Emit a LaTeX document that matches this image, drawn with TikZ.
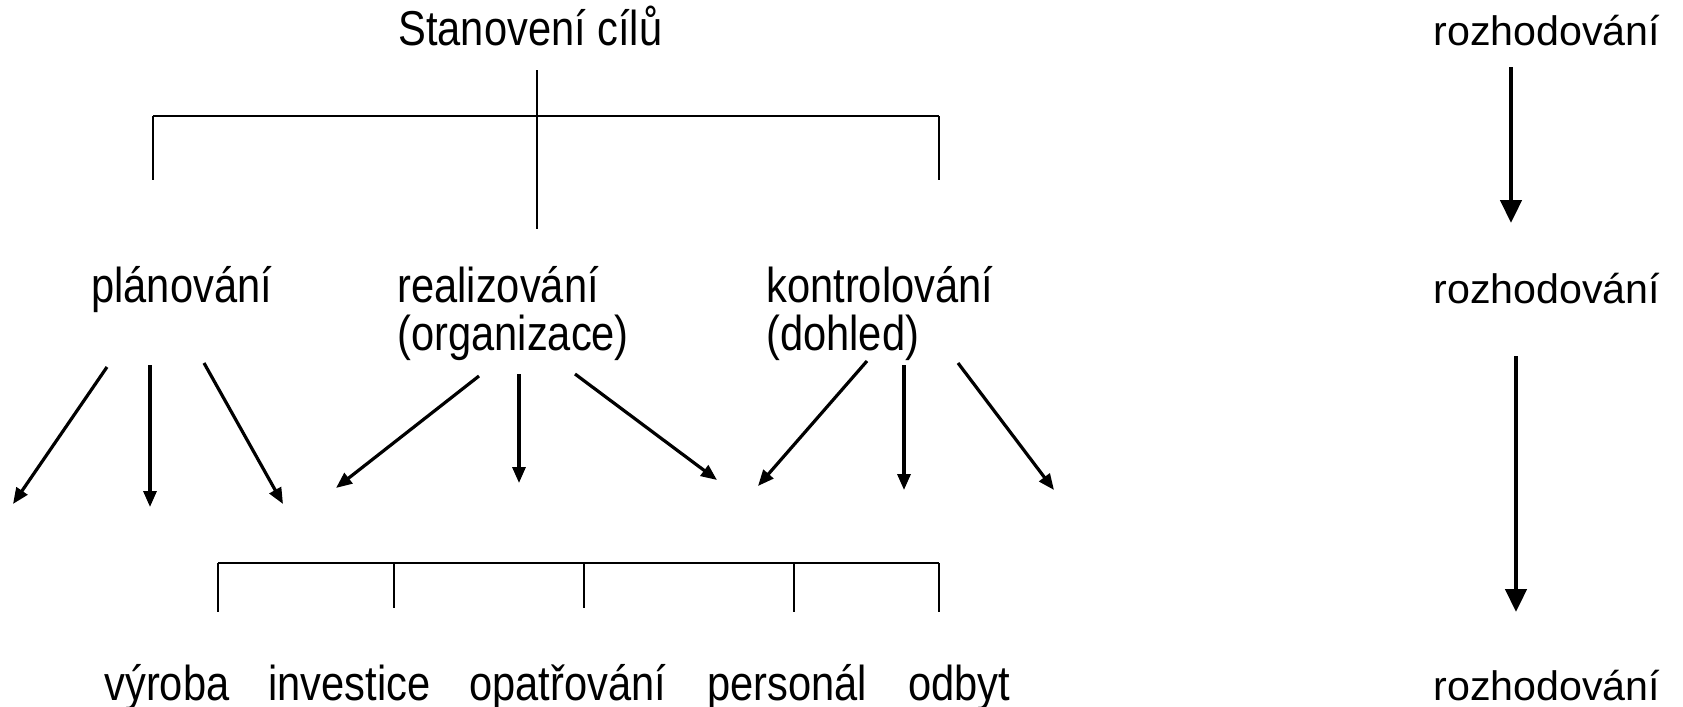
\documentclass[tikz,border=0pt]{standalone}
\usepackage{fontspec}
\setmainfont{Liberation Sans}
\newfontfamily\narrowsf[FakeStretch=0.85]{Liberation Sans}
\usepackage{tikz}
\usetikzlibrary{arrows.meta}

\begin{document}
\begin{tikzpicture}[x=0.5pt,y=-0.5pt,
                    lbl/.style={inner sep=0pt,anchor=base west,align=left,
                                font=\narrowsf\fontsize{24.5}{24}\selectfont},
                    rlbl/.style={inner sep=0pt,anchor=base west,
                                 font=\fontsize{20.6}{24}\selectfont},
                    tree/.style={line width=0.75pt},
                    bar/.style={line width=1.1pt},
                    fn/.style={-{Triangle[length=8pt,width=6.5pt]},line width=1.6pt},
                    flow/.style={-{Triangle[length=11.5pt,width=10.5pt]},line width=2.3pt}]
                \useasboundingbox (0,0) rectangle (1683,707);
                % texts (two-line nodes sit on the baseline of their last line)
                \node[lbl] (goal) at (398,45) {Stanovení cílů};
                \node[lbl] (plan) at (91,302) {plánování};
                \node[lbl] (real) at (397,350) {realizování\\(organizace)};
                \node[lbl] (kontr) at (766,350) {kontrolování\\(dohled)};
                \node[lbl] (vyroba) at (104,700) {výroba};
                \node[lbl] (invest) at (268,700) {investice};
                \node[lbl] (opatr) at (469,700) {opatřování};
                \node[lbl] (person) at (707,700) {personál};
                \node[lbl] (odbyt) at (908,700) {odbyt};
                \node[rlbl] (rozh1) at (1433,45) {rozhodování};
                \node[rlbl] (rozh2) at (1433,303) {rozhodování};
                \node[rlbl] (rozh3) at (1433,700) {rozhodování};
                % upper tree
                \coordinate (stem0) at (537,70);
                \coordinate (stem1) at (537,229);
                \coordinate (barl) at (153,116);
                \coordinate (barr) at (939,116);
                \draw[tree] (stem0) -- (stem1);
                \draw[bar] (barl) -- (barr);
                \draw[tree] (barl) -- ++(0,64);
                \draw[tree] (barr) -- ++(0,64);
                % lower tree
                \coordinate (lowl) at (218,563);
                \coordinate (lowr) at (939,563);
                \draw[bar] (lowl) -- (lowr);
                \foreach \x/\len in {218/49,394/45,584/45,794/49,939/49}
                  \draw[tree] (\x,563) -- ++(0,\len);
                % function arrows
                \foreach \n/\sx/\sy/\ex/\ey in {pa/107/367/13/504, pb/150/365/150/507, pc/204/363/283/504,
                                               ra/479/376/336/488, rb/519/374/519/483, rc/575/374/717/480,
                                               ka/867/361/758/486, kb/904/365/904/490, kc/958/363/1054/490}{
                  \coordinate (\n s) at (\sx,\sy);
                  \coordinate (\n e) at (\ex,\ey);
                  \draw[fn] (\n s) -- (\n e);
                }
                % decision chain
                \coordinate (d1s) at (1511,67);
                \coordinate (d1e) at (1511,223);
                \coordinate (d2s) at (1516,356);
                \coordinate (d2e) at (1516,612);
                \draw[flow] (d1s) -- (d1e);
                \draw[flow] (d2s) -- (d2e);
\end{tikzpicture}
\end{document}
